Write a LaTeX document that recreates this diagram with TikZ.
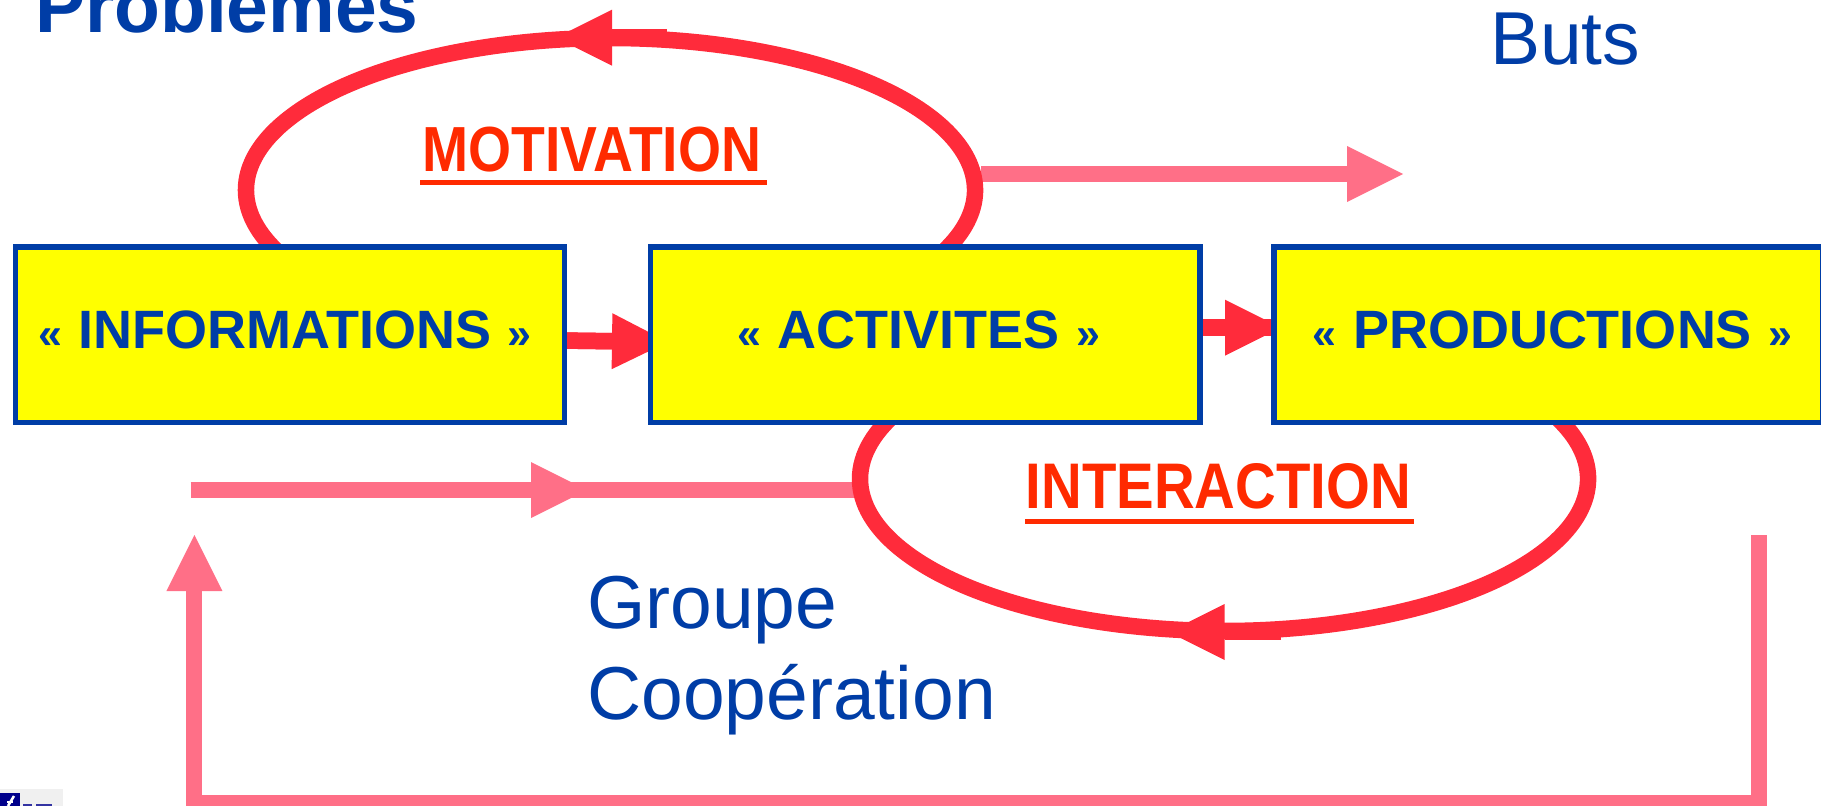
\documentclass[tikz,border=0pt]{standalone}
\usepackage{fontspec}
\setmainfont{Liberation Sans}
\usetikzlibrary{arrows.meta,calc}
\definecolor{txtblue}{HTML}{003DA6}
\definecolor{boxyellow}{RGB}{255,255,0}
\definecolor{loopred}{HTML}{FF2B3B}
\definecolor{flowpink}{HTML}{FF6F87}
\definecolor{wordred}{HTML}{FF2A00}
\definecolor{logoblue}{HTML}{00008B}
\definecolor{logogrey}{HTML}{F0F0F0}
\newcommand{\shiftlabel}[3]{\kern#1pt\raisebox{#2pt}{#3}}
\newcommand{\gl}{{\fontsize{43}{50}\selectfont «}\kern 1.5pt\ }
\newcommand{\gr}{\ \kern 1.5pt{\fontsize{43}{50}\selectfont »}}
\tikzset{
  boxnode/.style={draw=txtblue,fill=boxyellow,line width=5.5pt,minimum height=175.8pt,inner sep=0pt,
    text=txtblue,font=\fontsize{54}{60}\selectfont\bfseries},
  redline/.style={draw=loopred,line width=16.5pt},
  redarrow/.style={redline,-{Triangle[length=56pt,width=56pt,line width=0pt,sep=0pt]}},
  pinkline/.style={draw=flowpink,line width=16pt},
  pinkarrow/.style={pinkline,-{Triangle[length=56pt,width=56pt,line width=0pt]}},
  bigtext/.style={text=txtblue,inner sep=0pt,anchor=base west,font=\fontsize{75}{80}\selectfont},
  wordnode/.style={text=wordred,inner sep=0pt,anchor=south west,font=\bfseries},
}
\begin{document}
\begin{tikzpicture}[x=1pt,y=-1pt]
\useasboundingbox (0,0) rectangle (1821,806);
\clip (0,0) rectangle (1821,806);
% coordinates on the loops and free ends
\coordinate (motS) at (932.3,261.4);
\coordinate (intS) at (1545.4,407.6);
\coordinate (motHeadS) at (667,37.7);
\coordinate (motHeadE) at (556,37.7);
\coordinate (intHeadS) at (1281,632);
\coordinate (intHeadE) at (1168.6,632);
\coordinate (butsS) at (981,174);
\coordinate (butsE) at (1403,174);
\coordinate (grpS) at (858,490);
\coordinate (grpM) at (190.5,490);
\coordinate (grpH) at (587,490);
\coordinate (fbA) at (1759,535);
\coordinate (fbB) at (1759,803);
\coordinate (fbC) at (194.4,803);
\coordinate (fbD) at (194.4,535);
% pink flows
\draw[pinkarrow] (butsS) -- (butsE);
\draw[pinkline] (grpS) -- (grpM);
\draw[pinkarrow] (grpM) -- (grpH);
\draw[pinkline] (fbA) -- (fbB) -- (fbC) -- ($(fbC)+(0,-200)$);
\draw[pinkarrow] (fbC) -- (fbD);
% loops
\draw[redline] (motS) arc[start angle=-28,end angle=208,x radius=364.5pt,y radius=152pt];
\draw[redline] (intS) arc[start angle=28,end angle=-208,x radius=364pt,y radius=152pt];
\draw[redarrow] (motHeadS) -- (motHeadE);
\draw[redarrow] (intHeadS) -- (intHeadE);
% box-to-box arrows, under the boxes
\coordinate (ia1) at (560,340.5);
\coordinate (ia2) at (668,342);
\coordinate (ap1) at (1195,327.7);
\coordinate (ap2) at (1281,327.7);
\draw[redline] (ia1) -- (ia2);
\draw[redarrow] (ia1) -- (ia2);
\draw[redline] (ap1) -- (ap2);
\draw[redarrow] (ap1) -- (ap2);
% boxes
\node[boxnode,minimum width=549pt] (info) at (290,334.7) {\shiftlabel{-10}{10}{\gl INFORMATIONS\gr}};
\node[boxnode,minimum width=549.2pt] (act) at (925.2,334.7) {\shiftlabel{-13}{10}{\gl ACTIVITES\gr}};
\node[boxnode,minimum width=549pt] (prod) at (1548.5,334.7) {\shiftlabel{8}{10}{\gl PRODUCTIONS\gr}};
% texts
\node[bigtext,font=\fontsize{75}{80}\selectfont\bfseries] (prob) at (35,32.7) {Problèmes};
\node[bigtext] (buts) at (1490,64.5) {Buts};
\node[bigtext] (grp) at (587,628) {Groupe};
\node[bigtext] (coop) at (587,719) {Coopération};
\node[wordnode] (mot) at (422,172) {\resizebox{339pt}{44.5pt}{MOTIVATION}};
\node[wordnode] (inter) at (1025.5,509.7) {\resizebox{385pt}{45pt}{INTERACTION}};
\fill[wordred] (420,180) rectangle (767,184.8);
\fill[wordred] (1025,519) rectangle (1414,524);
% logo fragment
\fill[logogrey] (0,789) rectangle (62.7,806);
\fill[logoblue] (0,792.7) rectangle (20,806);
\draw[white,line width=2.5pt] (8,806) -- (14,796);
\draw[white,line width=2pt] (7,802) -- (13,802);
\fill[logoblue!80!white] (23,803.5) rectangle (32,806);
\fill[logoblue!80!white] (36,803.5) rectangle (52,806);
\end{tikzpicture}
\end{document}
